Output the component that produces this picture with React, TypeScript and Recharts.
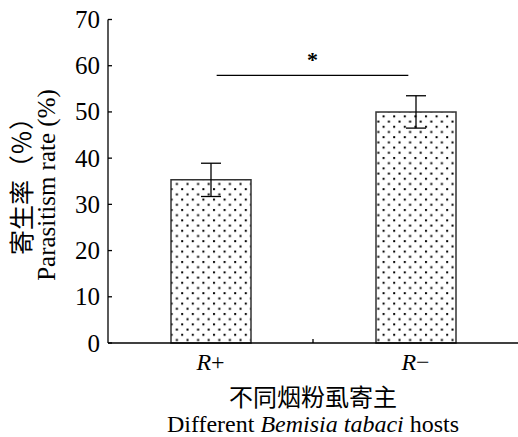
import React from "react";
import {
  BarChart,
  Bar,
  XAxis,
  YAxis,
  ErrorBar,
  ReferenceLine,
} from "recharts";

const hosts = ["R+", "R−"];
const rates = [35.3, 50.0];
const errors = [3.6, 3.5];
const yTicks = [0, 10, 20, 30, 40, 50, 60, 70];
// significance bracket: level on the rate axis, insets as a share of the bar-to-bar distance
const sigLevel = 57.9;
const sigInsetLeft = 0.03;
const sigInsetRight = 0.035;
const sigMark = "*";

const data = hosts.map((host, i) => ({ host, rate: rates[i], err: errors[i] }));

const FONT = "'Liberation Serif', 'Noto Sans CJK SC', serif";

const XTick = (props: any) => {
  const { x, y, payload, index, width, visibleTicksCount } = props;
  const label: string = payload.value;
  const half =
    typeof width === "number" && visibleTicksCount ? width / visibleTicksCount / 2 : 102.5;
  return (
    <g>
      <text x={x} y={y + 27} textAnchor="middle" fontSize={24} fontFamily={FONT} fill="#000">
        <tspan fontStyle="italic">{label.slice(0, 1)}</tspan>
        <tspan>{label.slice(1)}</tspan>
      </text>
      {index === 0 && (
        <line x1={x + half} x2={x + half} y1={y} y2={y - 4} stroke="#000" strokeWidth={1.3} />
      )}
    </g>
  );
};

const YTick = (props: any) => {
  const { x, y, payload } = props;
  return (
    <g>
      <text x={x - 8} y={y + 8.5} textAnchor="end" fontSize={25} fontFamily={FONT} fill="#000">
        {payload.value}
      </text>
      <line x1={x} x2={x + 4} y1={y} y2={y} stroke="#000" strokeWidth={1.3} />
    </g>
  );
};

const SigBracket = (props: any) => {
  const { x1, x2, y1 } = props;
  if (typeof x1 !== "number" || typeof x2 !== "number") return null;
  const span = x2 - x1;
  const a = x1 + span * sigInsetLeft;
  const b = x2 - span * sigInsetRight;
  return (
    <g>
      <line x1={a} x2={b} y1={y1} y2={y1} stroke="#000" strokeWidth={1.3} />
      <text
        x={(a + b) / 2}
        y={y1 - 8}
        textAnchor="middle"
        fontSize={22}
        fontWeight="bold"
        fontFamily={FONT}
        fill="#000"
      >
        {sigMark}
      </text>
    </g>
  );
};

export default function App() {
  return (
    <div style={{ position: "absolute", left: 0, top: 0, background: "#fff" }}>
      <BarChart
        width={518}
        height={437}
        data={data}
        margin={{ top: 19.5, right: 0, bottom: 0, left: 0 }}
      >
        <defs>
          <pattern id="dots" width="10.6" height="10.4" patternUnits="userSpaceOnUse">
            <rect width="10.6" height="10.4" fill="#fff" />
            <rect x="1" y="1" width="2" height="2" fill="#000" />
            <rect x="6.3" y="6.2" width="2" height="2" fill="#000" />
          </pattern>
        </defs>
        <XAxis
          dataKey="host"
          height={94}
          tickSize={0}
          tickMargin={0}
          tickLine={false}
          axisLine={{ stroke: "#000", strokeWidth: 1.3 }}
          tick={<XTick />}
        />
        <YAxis
          width={108}
          domain={[0, 70]}
          ticks={yTicks}
          interval={0}
          tickSize={0}
          tickMargin={0}
          tickLine={false}
          axisLine={{ stroke: "#000", strokeWidth: 1.3 }}
          tick={<YTick />}
        />
        <Bar
          dataKey="rate"
          barSize={80}
          fill="url(#dots)"
          stroke="#333"
          strokeWidth={1.5}
          isAnimationActive={false}
        >
          <ErrorBar dataKey="err" width={10} stroke="#000" strokeWidth={1.3} />
        </Bar>
        <ReferenceLine
          segment={[
            { x: hosts[0], y: sigLevel },
            { x: hosts[1], y: sigLevel },
          ]}
          ifOverflow="visible"
          shape={<SigBracket />}
        />
        <text
          transform="rotate(-90, 31, 180)"
          x={31}
          y={180}
          textAnchor="middle"
          fontSize={25}
          fontFamily={FONT}
          fill="#000"
        >
          寄生率（％）
        </text>
        <text
          transform="rotate(-90, 55, 185)"
          x={55}
          y={185}
          textAnchor="middle"
          fontSize={25}
          fontFamily={FONT}
          fill="#000"
        >
          Parasitism rate (%)
        </text>
        <text x={313} y={406} textAnchor="middle" fontSize={24} fontFamily={FONT} fill="#000">
          不同烟粉虱寄主
        </text>
        <text x={313} y={432} textAnchor="middle" fontSize={24} fontFamily={FONT} fill="#000">
          Different <tspan fontStyle="italic">Bemisia tabaci</tspan> hosts
        </text>
      </BarChart>
    </div>
  );
}
